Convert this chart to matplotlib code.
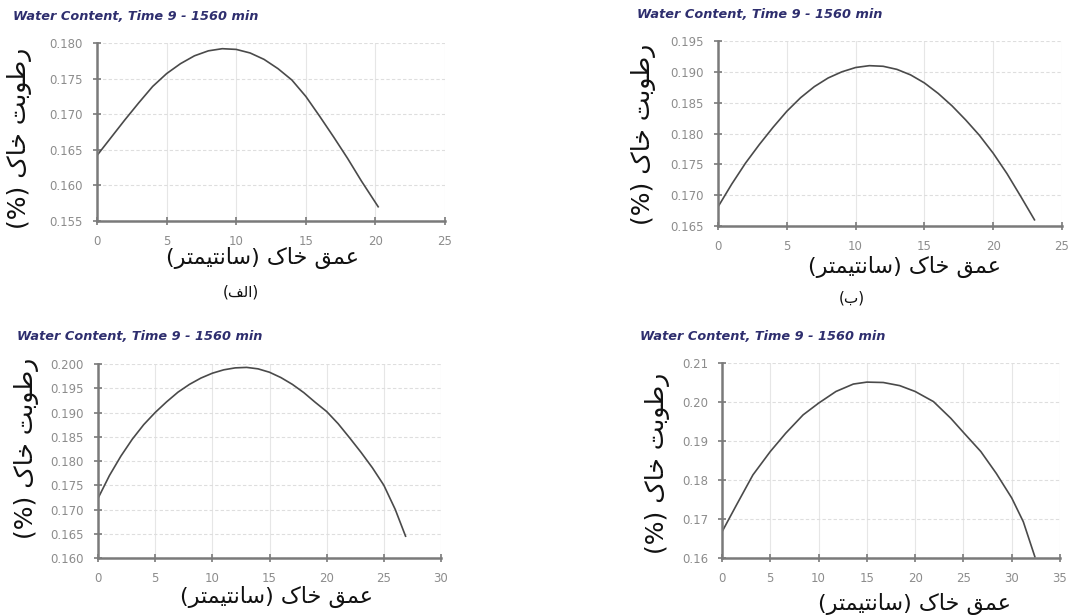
import matplotlib
matplotlib.use("Agg")
import matplotlib.pyplot as plt
from matplotlib.ticker import FormatStrFormatter, MultipleLocator

plt.rcParams['font.family'] = ['DejaVu Sans']

# Soil water content profiles (depth in cm, water content fraction)
depth_a = [0, 1, 2, 3, 4, 5, 6, 7, 8, 9, 10, 11, 12, 13, 14, 15, 16, 17, 18, 19, 20.2]
water_a = [0.1642, 0.1667, 0.1692, 0.1716, 0.1739, 0.1757, 0.1771, 0.1782, 0.1789, 0.1792,
           0.1791, 0.1786, 0.1777, 0.1764, 0.1748, 0.1725, 0.1697, 0.1668, 0.1638, 0.1606, 0.1570]

depth_b = [0, 1, 2, 3, 4, 5, 6, 7, 8, 9, 10, 11, 12, 13, 14, 15, 16, 17, 18, 19, 20, 21, 22, 23]
water_b = [0.1681, 0.1718, 0.1752, 0.1782, 0.1810, 0.1836, 0.1858, 0.1876, 0.1890, 0.1900,
           0.1907, 0.1910, 0.1909, 0.1904, 0.1895, 0.1882, 0.1865, 0.1845, 0.1822, 0.1797,
           0.1768, 0.1735, 0.1698, 0.1660]

depth_c = [0, 1, 2, 3, 4, 5, 6, 7, 8, 9, 10, 11, 12, 13, 14, 15, 16, 17, 18, 19, 20,
           21, 22, 23, 24, 25, 26, 26.9]
water_c = [0.1723, 0.1770, 0.1810, 0.1845, 0.1875, 0.1900, 0.1922, 0.1942, 0.1958, 0.1971,
           0.1981, 0.1988, 0.1992, 0.1993, 0.1990, 0.1983, 0.1972, 0.1958, 0.1941, 0.1921,
           0.1902, 0.1877, 0.1848, 0.1818, 0.1786, 0.1750, 0.1700, 0.1645]

depth_d = [0, 1.5, 3.2, 5, 6.6, 8.4, 10, 11.8, 13.6, 15, 16.7, 18.4, 20, 21.9, 23.7, 25,
           26.8, 28.4, 30, 31.2, 32.4]
water_d = [0.1667, 0.1736, 0.1813, 0.1873, 0.1920, 0.1967, 0.1997, 0.2027, 0.2046, 0.2051,
           0.2050, 0.2042, 0.2027, 0.2001, 0.1958, 0.1922, 0.1873, 0.1817, 0.1754, 0.1693,
           0.1603]

title = "Water Content, Time 9 - 1560 min"
ylabel_fa = "رطوبت خاک (%)"
xlabel_fa = "عمق خاک (سانتیمتر)"
captions = ["(الف)", "(ب)"]

# Arabic presentation forms: (isolated, final[, initial, medial])
FORMS = {
    'ا': ('\uFE8D', '\uFE8E'),
    'ب': ('\uFE8F', '\uFE90', '\uFE91', '\uFE92'),
    'ت': ('\uFE95', '\uFE96', '\uFE97', '\uFE98'),
    'خ': ('\uFEA5', '\uFEA6', '\uFEA7', '\uFEA8'),
    'ر': ('\uFEAD', '\uFEAE'),
    'س': ('\uFEB1', '\uFEB2', '\uFEB3', '\uFEB4'),
    'ط': ('\uFEC1', '\uFEC2', '\uFEC3', '\uFEC4'),
    'ع': ('\uFEC9', '\uFECA', '\uFECB', '\uFECC'),
    'ف': ('\uFED1', '\uFED2', '\uFED3', '\uFED4'),
    'ق': ('\uFED5', '\uFED6', '\uFED7', '\uFED8'),
    'ل': ('\uFEDD', '\uFEDE', '\uFEDF', '\uFEE0'),
    'م': ('\uFEE1', '\uFEE2', '\uFEE3', '\uFEE4'),
    'ن': ('\uFEE5', '\uFEE6', '\uFEE7', '\uFEE8'),
    'و': ('\uFEED', '\uFEEE'),
    'ک': ('\uFB8E', '\uFB8F', '\uFB90', '\uFB91'),
    'ی': ('\uFBFC', '\uFBFD', '\uFBFE', '\uFBFF'),
}


def rtl(text):
    # join letters into their contextual forms, then lay them out right to left
    out = []
    for i, c in enumerate(text):
        if c not in FORMS:
            out.append(c)
            continue
        forms = FORMS[c]
        prev = text[i - 1] if i > 0 else None
        nxt = text[i + 1] if i + 1 < len(text) else None
        join_prev = prev in FORMS and len(FORMS[prev]) == 4
        join_next = nxt in FORMS and len(forms) == 4
        if join_prev and join_next:
            out.append(forms[3])
        elif join_prev:
            out.append(forms[1])
        elif join_next:
            out.append(forms[2])
        else:
            out.append(forms[0])
    visual = ''.join(reversed(out))
    return visual.translate(str.maketrans('()', ')('))


W, H = 1068, 615
fig = plt.figure(figsize=(W / 100, H / 100), dpi=100)


def px_axes(left, top, right, bottom):
    return fig.add_axes([left / W, 1 - bottom / H, (right - left) / W, (bottom - top) / H])


panels = [
    # depth, water, box, xmax, ylim, ystep, fmt, title pos, ylabel pos, xlabel pos, caption
    (depth_a, water_a, (97, 43, 445, 221), 25, (0.155, 0.180), 0.005, '%.3f',
     (13, 17), (20, 138), (263, 258), (241, 292, captions[0])),
    (depth_b, water_b, (718, 41, 1062, 226), 25, (0.165, 0.195), 0.005, '%.3f',
     (637, 15), (643, 134), (904, 267), (852, 298, captions[1])),
    (depth_c, water_c, (98, 364, 441, 558), 30, (0.160, 0.200), 0.005, '%.3f',
     (17, 337), (27, 448), (276, 597), None),
    (depth_d, water_d, (722, 363, 1060, 558), 35, (0.16, 0.21), 0.01, '%.2f',
     (640, 337), (658, 463), (914, 604), None),
]

for depth, water, box, xmax, ylim, ystep, fmt, tpos, ypos, xpos, cap in panels:
    ax = px_axes(*box)
    ax.plot(depth, water, color='#4a4a4a', linewidth=1.2)
    ax.set_xlim(0, xmax)
    ax.set_ylim(*ylim)
    ax.xaxis.set_major_locator(MultipleLocator(5))
    ax.yaxis.set_major_locator(MultipleLocator(ystep))
    ax.yaxis.set_major_formatter(FormatStrFormatter(fmt))
    ax.grid(True, axis='x', color='#e6e6e6', linewidth=0.8)
    ax.grid(True, axis='y', color='#dedede', linewidth=0.8, linestyle=(0, (3, 2)))
    ax.set_axisbelow(True)
    for side in ['top', 'right']:
        ax.spines[side].set_visible(False)
    for side in ['left', 'bottom']:
        ax.spines[side].set_color('#7a7a7a')
        ax.spines[side].set_linewidth(1.8)
    ax.tick_params(direction='inout', length=6, width=1.2, color='#7a7a7a',
                   labelcolor='#8c8c8c', labelsize=8.5, pad=7)
    for lbl in ax.get_xticklabels() + ax.get_yticklabels():
        lbl.set_clip_on(False)

    fig.text(tpos[0] / W, 1 - tpos[1] / H, title, fontsize=9.3, fontweight='bold',
             fontstyle='italic', color='#2e2e6e', ha='left', va='center')
    fig.text(ypos[0] / W, 1 - ypos[1] / H, rtl(ylabel_fa), fontsize=18, rotation=90,
             ha='center', va='center', color='#111111')
    fig.text(xpos[0] / W, 1 - xpos[1] / H, rtl(xlabel_fa), fontsize=16,
             ha='center', va='center', color='#111111')
    if cap is not None:
        fig.text(cap[0] / W, 1 - cap[1] / H, rtl(cap[2]), fontsize=11,
                 ha='center', va='center', color='#111111')

fig.savefig('out.png', dpi=100, facecolor='white')
